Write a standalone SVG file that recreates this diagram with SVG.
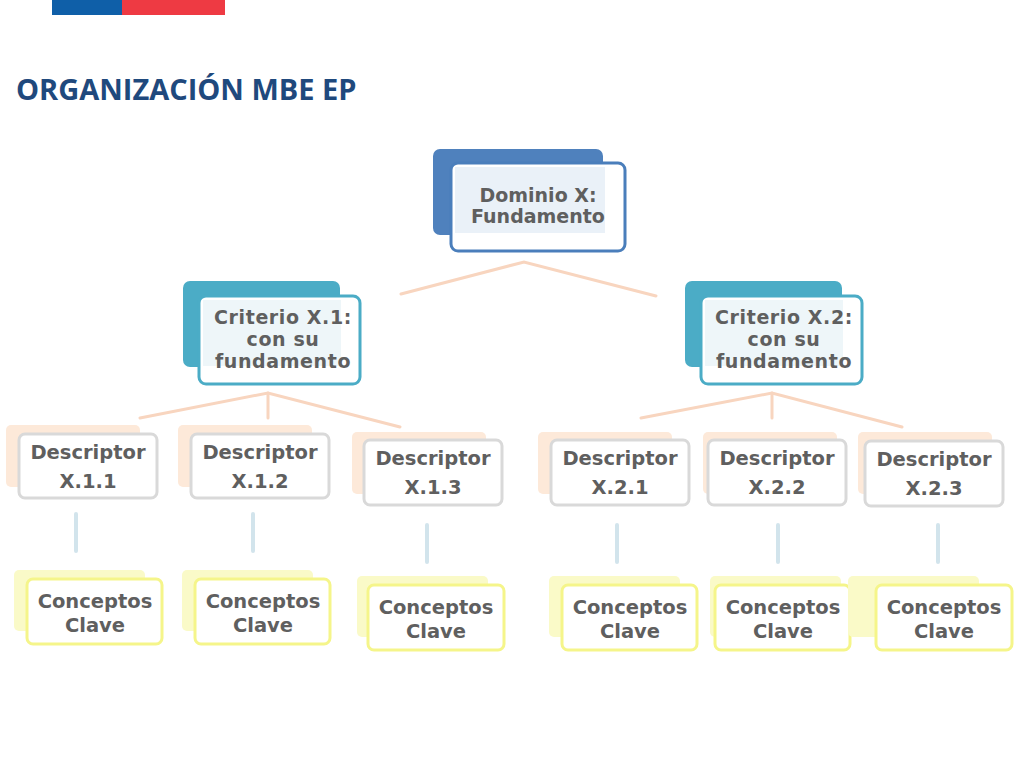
<svg xmlns="http://www.w3.org/2000/svg" width="1024" height="768" viewBox="0 0 1024 768">
<style>
text{font-family:"DejaVu Sans",Verdana,sans-serif;font-weight:bold;fill:#5f5f5f;text-anchor:middle}
.t{font-size:19.5px}
.k{font-size:19px;letter-spacing:0.6px}
.s{font-size:19px}
.dback{fill:#fde9d9}
.dfront{fill:#fff;stroke:#d9d9d9;stroke-width:3}
.cback{fill:#fafac8}
.cfront{fill:#fff;stroke:#f5f58a;stroke-width:3}
.ln{stroke:#f8d5bf;stroke-width:3;fill:none;stroke-linecap:round}
.tk{stroke:#d2e4ec;stroke-width:4;stroke-linecap:round}
</style>
<rect width="1024" height="768" fill="#fff"/>
<rect x="52" y="0" width="70" height="15" fill="#0f5fa8"/>
<rect x="122" y="0" width="103" height="15" fill="#ee3a43"/>
<text x="16" y="100" style="font-family:'Open Sans','Liberation Sans',sans-serif;font-size:29px;fill:#1f497d;text-anchor:start;font-weight:bold">ORGANIZACIÓN MBE EP</text>
<g id="connectors">
<polyline class="ln" points="401,294 524,262 656,296"/>
<polyline class="ln" points="140,418 268,393 400,427"/><line class="ln" x1="268" y1="393" x2="268" y2="418"/>
<polyline class="ln" points="641,418 772,393 902,427"/><line class="ln" x1="772" y1="393" x2="772" y2="418"/>
<line class="tk" x1="76" y1="514" x2="76" y2="551"/>
<line class="tk" x1="253" y1="514" x2="253" y2="551"/>
<line class="tk" x1="427" y1="525" x2="427" y2="562"/>
<line class="tk" x1="617" y1="525" x2="617" y2="562"/>
<line class="tk" x1="778" y1="525" x2="778" y2="562"/>
<line class="tk" x1="938" y1="525" x2="938" y2="562"/>
</g>
<g id="dominio">
<rect x="433" y="149" width="170" height="86" rx="7" fill="#4f81bd"/>
<rect x="451" y="163" width="174" height="88" rx="7" fill="#fff" stroke="#4a7ebb" stroke-width="3"/>
<rect x="455" y="167" width="150" height="66" fill="#eaf1f8"/>
<text class="s" x="538" y="202">Dominio X:</text>
<text class="s" x="538" y="223">Fundamento</text>
</g>
<g id="criterio1">
<rect x="183" y="281" width="157" height="86" rx="7" fill="#4bacc6"/>
<rect x="199" y="296" width="161" height="88" rx="7" fill="#fff" stroke="#4bacc6" stroke-width="3"/>
<rect x="203" y="300" width="138" height="66" fill="#eef6f9"/>
<text class="k" x="283" y="324">Criterio X.1:</text>
<text class="k" x="283" y="346">con su</text>
<text class="k" x="283" y="368">fundamento</text>
</g>
<g id="criterio2">
<rect x="685" y="281" width="157" height="86" rx="7" fill="#4bacc6"/>
<rect x="701" y="296" width="161" height="88" rx="7" fill="#fff" stroke="#4bacc6" stroke-width="3"/>
<rect x="705" y="300" width="138" height="66" fill="#eef6f9"/>
<text class="k" x="784" y="324">Criterio X.2:</text>
<text class="k" x="784" y="346">con su</text>
<text class="k" x="784" y="368">fundamento</text>
</g>
<g id="d111"><rect class="dback" x="6" y="425" width="134" height="62" rx="5"/><rect class="dfront" x="19" y="434" width="138" height="64" rx="6"/><text class="t" x="88" y="459">Descriptor</text><text class="t" x="88" y="488">X.1.1</text></g>
<g id="d112"><rect class="dback" x="178" y="425" width="134" height="62" rx="5"/><rect class="dfront" x="191" y="434" width="138" height="64" rx="6"/><text class="t" x="260" y="459">Descriptor</text><text class="t" x="260" y="488">X.1.2</text></g>
<g id="d113"><rect class="dback" x="352" y="432" width="134" height="62" rx="5"/><rect class="dfront" x="364" y="440" width="138" height="65" rx="6"/><text class="t" x="433" y="465">Descriptor</text><text class="t" x="433" y="494">X.1.3</text></g>
<g id="d221"><rect class="dback" x="538" y="432" width="134" height="62" rx="5"/><rect class="dfront" x="551" y="440" width="138" height="65" rx="6"/><text class="t" x="620" y="465">Descriptor</text><text class="t" x="620" y="494">X.2.1</text></g>
<g id="d222"><rect class="dback" x="703" y="432" width="134" height="62" rx="5"/><rect class="dfront" x="708" y="440" width="138" height="65" rx="6"/><text class="t" x="777" y="465">Descriptor</text><text class="t" x="777" y="494">X.2.2</text></g>
<g id="d223"><rect class="dback" x="858" y="432" width="134" height="62" rx="5"/><rect class="dfront" x="865" y="441" width="138" height="65" rx="6"/><text class="t" x="934" y="466">Descriptor</text><text class="t" x="934" y="495">X.2.3</text></g>
<g id="c1"><rect class="cback" x="14" y="570" width="131" height="61" rx="5"/><rect class="cfront" x="27" y="579" width="135" height="65" rx="6"/><text class="t" x="95" y="608">Conceptos</text><text class="t" x="95" y="632">Clave</text></g>
<g id="c2"><rect class="cback" x="182" y="570" width="131" height="61" rx="5"/><rect class="cfront" x="195" y="579" width="135" height="65" rx="6"/><text class="t" x="263" y="608">Conceptos</text><text class="t" x="263" y="632">Clave</text></g>
<g id="c3"><rect class="cback" x="357" y="576" width="131" height="61" rx="5"/><rect class="cfront" x="368" y="585" width="136" height="65" rx="6"/><text class="t" x="436" y="614">Conceptos</text><text class="t" x="436" y="638">Clave</text></g>
<g id="c4"><rect class="cback" x="549" y="576" width="131" height="61" rx="5"/><rect class="cfront" x="562" y="585" width="135" height="65" rx="6"/><text class="t" x="630" y="614">Conceptos</text><text class="t" x="630" y="638">Clave</text></g>
<g id="c5"><rect class="cback" x="710" y="576" width="131" height="61" rx="5"/><rect class="cfront" x="715" y="585" width="135" height="65" rx="6"/><text class="t" x="783" y="614">Conceptos</text><text class="t" x="783" y="638">Clave</text></g>
<g id="c6"><rect class="cback" x="848" y="576" width="131" height="61" rx="5"/><rect class="cfront" x="876" y="585" width="136" height="65" rx="6"/><text class="t" x="944" y="614">Conceptos</text><text class="t" x="944" y="638">Clave</text></g>
</svg>
